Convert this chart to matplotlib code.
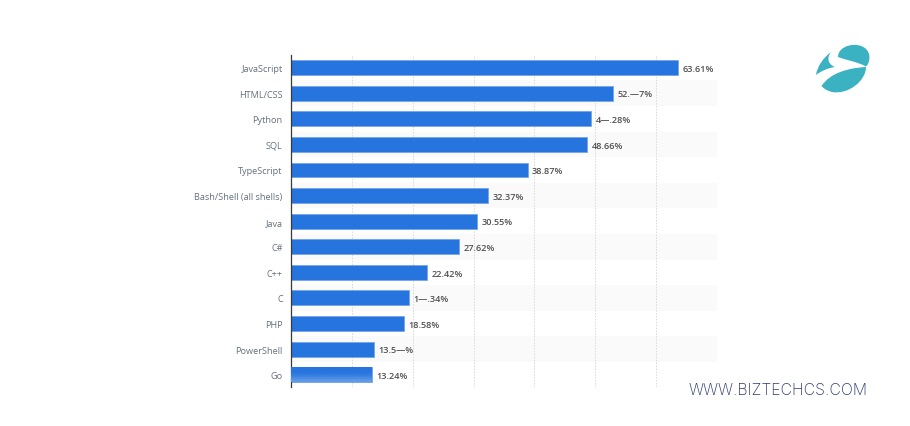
import numpy as np
import matplotlib
matplotlib.use('Agg')
import matplotlib.pyplot as plt
from matplotlib.path import Path
from matplotlib.patches import PathPatch

languages = ['JavaScript', 'HTML/CSS', 'Python', 'SQL', 'TypeScript', 'Bash/Shell (all shells)',
             'Java', 'C#', 'C++', 'C', 'PHP', 'PowerShell', 'Go']
shares = [63.61, 52.97, 49.28, 48.66, 38.87, 32.37, 30.55, 27.62, 22.42, 19.34, 18.58, 13.59, 13.24]
# labels are partly garbled in the source picture, kept as shown
share_labels = ['63.61%', '52.—7%', '4—.28%', '48.66%', '38.87%', '32.37%', '30.55%',
                '27.62%', '22.42%', '1—.34%', '18.58%', '13.5—%', '13.24%']
grid_ticks = [10, 20, 30, 40, 50, 60, 70]

W, H = 910, 427
BAR = '#2674de'
plt.rcParams['font.family'] = ['Open Sans', 'DejaVu Sans']

fig = plt.figure(figsize=(W / 100, H / 100), dpi=100, facecolor='white')
ax = fig.add_axes([291 / W, 1 - 388 / H, 426 / W, 332 / H])
ax.set_xlim(0, 70)
ax.set_ylim(12.48, -0.49)

# striped rows
for i in range(1, len(languages), 2):
    ax.axhspan(i - 0.5, i + 0.5, color='#fafafa', lw=0, zorder=0)

for t in grid_ticks:
    ax.axvline(t, color='#d8d8d8', lw=0.7, ls=(0, (1.5, 1.5)), zorder=1)

y = np.arange(len(languages))
bars = ax.barh(y, shares, height=0.58, color=BAR, edgecolor='#6ea2ea', linewidth=0.5, zorder=2)

# last bar fades to lighter blue at the bottom
grad = np.array([[0.0], [0.0], [0.15], [0.45], [0.8]])
cmap = matplotlib.colors.LinearSegmentedColormap.from_list('fade', [BAR, '#6fa3ea'])
ax.imshow(grad, cmap=cmap, vmin=0, vmax=1, aspect='auto', zorder=3,
          extent=[0, shares[-1], 12.29, 11.71], interpolation='bilinear')
ax.set_xlim(0, 70)
ax.set_ylim(12.48, -0.49)

for yi, v, lab in zip(y, shares, share_labels):
    ax.text(v + 0.75, yi + 0.03, lab, va='center', ha='left', fontsize=6.6, color='#505050', fontweight='semibold')

ax.set_yticks(y)
ax.set_yticklabels(languages, fontsize=6.6, color='#66707c')
ax.tick_params(axis='y', length=0, pad=6)
ax.set_xticks([])
ax.set_facecolor('white')
for s in ['top', 'right', 'bottom']:
    ax.spines[s].set_visible(False)
ax.spines['left'].set_color('#3a3a3a')
ax.spines['left'].set_linewidth(0.9)

# overlay in pixel coordinates for the logo and site name
over = fig.add_axes([0, 0, 1, 1], facecolor='none')
over.set_xlim(0, W)
over.set_ylim(H, 0)
over.axis('off')

TEAL = '#3bb2c1'
C4 = Path.CURVE4
logo_parts = [
    [(838, 58), (838, 46), (858, 42), (866, 50), (872, 56), (869, 65), (866, 67.5),
     (858, 63), (846, 61), (838, 58)],
    [(821.5, 87), (830, 74), (848, 69), (866, 68), (866, 82), (848, 96), (832, 93),
     (828, 92), (824, 90), (821.5, 87)],
    [(816, 76), (817.5, 67), (823, 59), (831, 53), (827, 58), (827, 65), (835, 68),
     (828, 69), (821, 72), (816, 76)],
]
for pts in logo_parts:
    codes = [Path.MOVETO] + [C4] * (len(pts) - 1)
    over.add_patch(PathPatch(Path(pts, codes), facecolor=TEAL, edgecolor='none'))

over.text(868, 391, 'WWW.BIZTECHCS.COM', ha='right', va='center', fontsize=11.4,
          color='#2f3b70', family=['Inter', 'DejaVu Sans'], fontweight='light')

fig.savefig('out.png', dpi=100)
